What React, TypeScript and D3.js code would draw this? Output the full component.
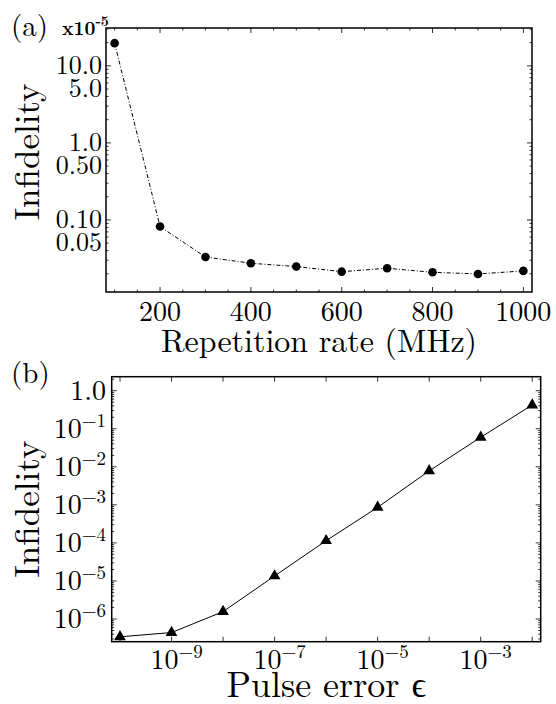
import { useEffect, useRef } from 'react'
import { select, scaleLinear, scaleLog, line, symbol, symbolTriangle, range } from 'd3'

// panel (a) - infidelity vs repetition rate (values in units of 1e-5)
const repRate = [100, 200, 300, 400, 500, 600, 700, 800, 900, 1000]
const infidelityA = [19.7, 0.082, 0.033, 0.0274, 0.0248, 0.0213, 0.0236, 0.0209, 0.0199, 0.0218]
const yTicksA = [10, 5, 1, 0.5, 0.1, 0.05]
const yTickLabelsA = ['10.0', '5.0', '1.0', '0.50', '0.10', '0.05']
const xTicksA = [200, 400, 600, 800, 1000]

// panel (b) - infidelity vs pulse error
const pulseError = [1e-10, 1e-9, 1e-8, 1e-7, 1e-6, 1e-5, 1e-4, 1e-3, 1e-2]
const infidelityB = [3.4e-7, 4.4e-7, 1.56e-6, 1.35e-5, 1.14e-4, 8.6e-4, 7.8e-3, 5.96e-2, 0.42]
const yExpB = [0, -1, -2, -3, -4, -5, -6]
const xExpB = [-9, -7, -5, -3]

// computer modern look-alike
const FONT = 'Latin Modern Roman, Liberation Serif, serif'

export default function App() {
  const ref = useRef<SVGSVGElement>(null)

  useEffect(() => {
    const svg = select(ref.current)
    svg.selectAll('*').remove()

    // ---------- panel (a) ----------
    const A = { l: 106, t: 28, r: 532, b: 292 }
    const xA = scaleLinear().domain([81, 1019]).range([A.l, A.r])
    const yA = scaleLog().domain([0.0116, 31]).range([A.b, A.t])
    const ga = svg.append('g')

    // minor / major ticks, inward on all four sides
    range(100, 1001, 50).forEach(v => {
      const len = v % 200 === 0 ? 5 : 2.5
      ga.append('line').attr('x1', xA(v)).attr('x2', xA(v)).attr('y1', A.b).attr('y2', A.b - len)
      ga.append('line').attr('x1', xA(v)).attr('x2', xA(v)).attr('y1', A.t).attr('y2', A.t + len)
    })
    ;[0.01, 0.1, 1, 10].forEach(d => range(1, 10).forEach(m => {
      const v = d * m
      if (v < 0.0116 || v > 31) return
      const len = m === 1 ? 5 : 2.5
      ga.append('line').attr('x1', A.l).attr('x2', A.l + len).attr('y1', yA(v)).attr('y2', yA(v))
      ga.append('line').attr('x1', A.r).attr('x2', A.r - len).attr('y1', yA(v)).attr('y2', yA(v))
    }))
    ga.selectAll('line').attr('stroke', '#000').attr('stroke-width', 0.8)

    const lineA = line<number>().x((d, i) => xA(repRate[i])).y(d => yA(d))
    ga.append('path').attr('d', lineA(infidelityA)).attr('fill', 'none')
      .attr('stroke', '#000').attr('stroke-width', 1).attr('stroke-dasharray', '4,2,1,2')
    ga.selectAll('circle.pt').data(infidelityA).join('circle').attr('class', 'pt')
      .attr('cx', (d, i) => xA(repRate[i])).attr('cy', d => yA(d)).attr('r', 4.3).attr('fill', '#000')

    ga.append('rect').attr('x', A.l).attr('y', A.t).attr('width', A.r - A.l).attr('height', A.b - A.t)
      .attr('fill', 'none').attr('stroke', '#000').attr('stroke-width', 1.5)

    ga.selectAll('text.yt').data(yTicksA).join('text').attr('class', 'yt')
      .attr('x', 102).attr('y', d => yA(d) + 8).attr('text-anchor', 'end')
      .attr('font-size', 26).text((d, i) => yTickLabelsA[i])
    ga.selectAll('text.xt').data(xTicksA).join('text').attr('class', 'xt')
      .attr('x', d => xA(d)).attr('y', 321).attr('text-anchor', 'middle')
      .attr('font-size', 28).text(d => d)

    ga.append('text').attr('x', (A.l + A.r) / 2).attr('y', 352).attr('text-anchor', 'middle')
      .attr('font-size', 32).text('Repetition rate (MHz)')
    ga.append('text').attr('transform', `translate(39,${(A.t + A.b) / 2 - 8}) rotate(-90)`)
      .attr('text-anchor', 'middle').attr('font-size', 35).text('Infidelity')
    ga.append('text').attr('x', 11).attr('y', 36).attr('font-size', 29).text('(a)')
    const mult = ga.append('text').attr('x', 62).attr('y', 35).attr('font-size', 19).attr('font-weight', 'bold')
    mult.append('tspan').text('x10')
    mult.append('tspan').attr('dy', -9).attr('font-size', 14).text('-5')

    // ---------- panel (b) ----------
    const B = { l: 111.7, t: 376.7, r: 540.7, b: 641.7 }
    const xB = scaleLog().domain([6.9e-11, 1.46e-2]).range([B.l, B.r])
    const yB = scaleLog().domain([2.53e-7, 2.33]).range([B.b, B.t])
    const gb = svg.append('g')

    range(-10, -1).forEach(e => {
      const v = Math.pow(10, e)
      gb.append('line').attr('x1', xB(v)).attr('x2', xB(v)).attr('y1', B.b).attr('y2', B.b - 5)
      gb.append('line').attr('x1', xB(v)).attr('x2', xB(v)).attr('y1', B.t).attr('y2', B.t + 5)
    })
    range(-7, 1).forEach(e => range(1, 10).forEach(m => {
      const v = m * Math.pow(10, e)
      if (v < 2.53e-7 || v > 2.33) return
      const len = m === 1 ? 5 : 2.5
      gb.append('line').attr('x1', B.l).attr('x2', B.l + len).attr('y1', yB(v)).attr('y2', yB(v))
      gb.append('line').attr('x1', B.r).attr('x2', B.r - len).attr('y1', yB(v)).attr('y2', yB(v))
    }))
    gb.selectAll('line').attr('stroke', '#000').attr('stroke-width', 0.8)

    const lineB = line<number>().x((d, i) => xB(pulseError[i])).y(d => yB(d))
    gb.append('path').attr('d', lineB(infidelityB)).attr('fill', 'none')
      .attr('stroke', '#000').attr('stroke-width', 1)
    const tri = symbol().type(symbolTriangle).size(60)
    gb.selectAll('path.pt').data(infidelityB).join('path').attr('class', 'pt')
      .attr('transform', (d, i) => `translate(${xB(pulseError[i])},${yB(d)})`)
      .attr('d', tri()).attr('fill', '#000')

    gb.append('rect').attr('x', B.l).attr('y', B.t).attr('width', B.r - B.l).attr('height', B.b - B.t)
      .attr('fill', 'none').attr('stroke', '#000').attr('stroke-width', 1.5)

    yExpB.forEach(e => {
      const t = gb.append('text').attr('x', 106).attr('y', yB(Math.pow(10, e)) + 9)
        .attr('text-anchor', 'end').attr('font-size', 28)
      if (e === 0) { t.text('1.0'); return }
      t.append('tspan').text('10')
      t.append('tspan').attr('dy', -11).attr('font-size', 19).text('\u2212' + Math.abs(e))
    })
    xExpB.forEach(e => {
      const t = gb.append('text').attr('x', xB(Math.pow(10, e)) + 5).attr('y', 669)
        .attr('text-anchor', 'middle').attr('font-size', 28)
      t.append('tspan').text('10')
      t.append('tspan').attr('dy', -11).attr('font-size', 19).text('\u2212' + Math.abs(e))
    })

    gb.append('text').attr('x', (B.l + B.r) / 2).attr('y', 697).attr('text-anchor', 'middle')
      .attr('font-size', 36).text('Pulse error \u03F5')
    gb.append('text').attr('transform', `translate(39,${(B.t + B.b) / 2}) rotate(-90)`)
      .attr('text-anchor', 'middle').attr('font-size', 35).text('Infidelity')
    gb.append('text').attr('x', 11).attr('y', 383).attr('font-size', 29).text('(b)')

    svg.selectAll('text').attr('font-family', FONT).attr('fill', '#000')
  }, [])

  return (
    <div style={{ position: 'absolute', left: 0, top: 0 }}>
      <svg ref={ref} width={556} height={704} style={{ display: 'block', background: '#fff' }} />
    </div>
  )
}
